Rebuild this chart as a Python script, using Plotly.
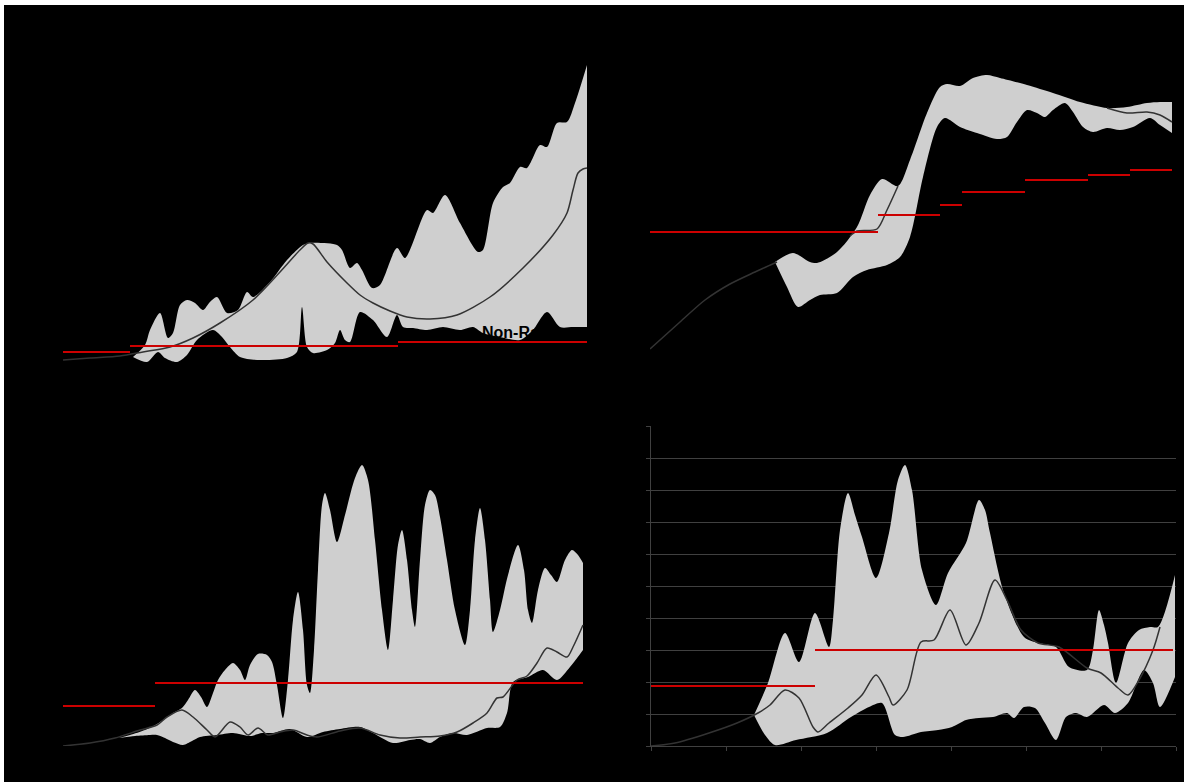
import plotly.graph_objects as go

W, H = 1184, 782

# ---------------- Top-left panel ----------------
tl_line_x = [0, 27, 57, 80, 107, 130, 157, 190, 217, 237, 245, 250, 264, 284, 297, 310, 327, 344, 367, 394, 427, 460, 490, 504, 510, 515, 520, 524]
tl_line_y = [5, 7, 9, 13, 18, 27, 42, 65, 93, 115, 122, 121, 103, 82, 70, 62, 54, 48, 46, 50, 68, 97, 130, 152, 175, 192, 196, 197]
tl_up_x = [70, 82, 87, 97, 105, 110, 117, 124, 132, 140, 147, 154, 164, 175, 184, 190, 207, 224, 240, 247, 274, 279, 287, 294, 299, 309, 317, 334, 342, 364, 370, 382, 397, 415, 420, 430, 440, 447, 457, 464, 477, 484, 494, 504, 512, 524]
tl_up_y = [8, 20, 35, 52, 27, 32, 60, 65, 62, 55, 63, 68, 52, 55, 73, 68, 83, 105, 120, 122, 120, 115, 97, 102, 95, 77, 80, 117, 107, 155, 152, 170, 142, 113, 115, 162, 178, 182, 198, 197, 220, 218, 242, 243, 262, 300]
tl_lo_x = [70, 84, 95, 102, 114, 124, 134, 150, 159, 167, 177, 197, 224, 234, 239, 244, 250, 264, 272, 277, 282, 287, 297, 310, 324, 334, 340, 350, 364, 380, 397, 410, 420, 437, 457, 470, 484, 497, 510, 524]
tl_lo_y = [8, 3, 13, 7, 3, 10, 25, 35, 28, 18, 8, 5, 7, 13, 58, 18, 12, 15, 22, 35, 25, 23, 53, 45, 28, 50, 38, 37, 35, 38, 35, 38, 32, 28, 25, 35, 53, 38, 38, 38]
tl_red_start = [0, 67, 335]
tl_red_end = [67, 335, 524]
tl_red_level = [13, 19, 23]

# ---------------- Top-right panel ----------------
# None = stretch where the line is not visible (runs along the band edge)
tr_line_x = [0, 30, 55, 80, 105, 127, 160, 200, 207, 227, 237, 248, 300, 457, 477, 497, 510, 522]
tr_line_y = [16, 43, 65, 81, 93, 103, None, 129, 134, 136, 155, 179, None, 257, 252, 253, 250, 243]
tr_up_x = [125, 143, 160, 167, 187, 207, 220, 232, 248, 260, 277, 290, 297, 310, 323, 337, 350, 377, 403, 430, 457, 477, 497, 510, 522]
tr_up_y = [103, 112, 103, 102, 113, 138, 170, 186, 179, 205, 252, 278, 281, 279, 287, 290, 287, 280, 272, 263, 257, 258, 262, 263, 263]
tr_lo_x = [125, 137, 148, 160, 170, 187, 203, 217, 237, 250, 260, 273, 287, 295, 310, 327, 347, 357, 367, 377, 387, 395, 403, 415, 423, 433, 443, 457, 470, 483, 500, 510, 522]
tr_lo_y = [103, 78, 58, 65, 70, 72, 88, 95, 100, 108, 128, 188, 238, 247, 238, 232, 226, 228, 243, 255, 252, 248, 255, 262, 253, 238, 233, 237, 235, 238, 247, 240, 232]
tr_red_start = [0, 228, 290, 312, 375, 438, 480]
tr_red_end = [228, 290, 312, 375, 438, 480, 522]
tr_red_level = [133, 150, 160, 173, 185, 190, 195]

# ---------------- Bottom-left panel ----------------
bl_line_x = [0, 27, 52, 77, 94, 104, 119, 130, 144, 152, 167, 177, 185, 195, 205, 217, 230, 244, 254, 277, 297, 317, 337, 357, 377, 394, 410, 424, 434, 440, 454, 464, 474, 484, 494, 504, 510, 520]
bl_line_y = [0, 3, 8, 16, 21, 29, 36, 29, 16, 9, 24, 19, 11, 18, 11, 14, 16, 11, 9, 15, 18, 11, 8, 9, 10, 14, 23, 33, 48, 49, 66, 70, 83, 98, 94, 89, 99, 121]
bl_up_x = [56, 67, 82, 94, 104, 110, 119, 125, 132, 138, 144, 150, 155, 162, 170, 177, 182, 187, 195, 204, 209, 214, 220, 225, 230, 235, 240, 244, 247, 251, 255, 259, 262, 267, 274, 282, 292, 299, 305, 312, 319, 325, 330, 335, 339, 344, 349, 352, 357, 362, 367, 372, 377, 384, 392, 402, 407, 412, 417, 422, 427, 430, 437, 445, 455, 461, 465, 469, 475, 482, 488, 494, 502, 509, 515, 520]
bl_up_y = [8, 11, 16, 22, 29, 33, 38, 46, 56, 49, 39, 53, 66, 76, 83, 76, 66, 81, 92, 91, 84, 61, 28, 66, 126, 154, 116, 61, 53, 96, 176, 241, 253, 236, 204, 231, 268, 281, 266, 206, 136, 96, 146, 201, 216, 186, 136, 119, 186, 241, 256, 251, 229, 186, 136, 101, 136, 206, 238, 206, 146, 114, 136, 171, 201, 176, 136, 123, 156, 178, 171, 164, 186, 196, 191, 183]
bl_lo_x = [56, 72, 87, 94, 102, 110, 120, 129, 137, 154, 170, 187, 199, 210, 227, 244, 260, 277, 297, 310, 330, 347, 357, 367, 377, 390, 404, 424, 437, 444, 450, 465, 480, 494, 507, 520]
bl_lo_y = [8, 10, 11, 11, 8, 4, 1, 5, 9, 11, 13, 10, 13, 13, 17, 9, 14, 17, 19, 13, 3, 6, 7, 3, 9, 13, 11, 18, 19, 33, 64, 69, 76, 66, 79, 96]
bl_red_start = [0, 92]
bl_red_end = [92, 520]
bl_red_level = [40, 63]

# ---------------- Bottom-right panel ----------------
br_line_x = [0, 24, 58, 86, 107, 119, 134, 148, 162, 167, 178, 197, 211, 225, 238, 242, 256, 270, 283, 299, 315, 328, 344, 356, 370, 387, 408, 436, 450, 467, 477, 488, 502, 509]
br_line_y = [0, 3, 13, 23, 33, 41, 56, 48, 19, 14, 23, 38, 51, 71, 49, 41, 56, 104, 106, 136, 101, 123, 166, 146, 116, 103, 99, 78, 73, 58, 51, 66, 96, 119]
br_up_x = [103, 117, 134, 148, 164, 178, 182, 189, 197, 204, 211, 225, 238, 247, 254, 261, 271, 285, 297, 315, 328, 334, 339, 353, 373, 387, 405, 418, 436, 442, 448, 453, 457, 465, 477, 488, 499, 507, 524]
br_up_y = [31, 63, 113, 84, 133, 99, 126, 216, 253, 231, 209, 168, 213, 266, 281, 256, 176, 141, 173, 203, 246, 236, 213, 153, 109, 103, 99, 79, 76, 96, 136, 121, 103, 63, 103, 116, 119, 119, 171]
br_lo_x = [103, 114, 124, 145, 176, 200, 218, 231, 244, 252, 270, 287, 301, 315, 328, 342, 356, 363, 373, 384, 394, 405, 415, 425, 436, 453, 464, 477, 493, 502, 509, 524]
br_lo_y = [31, 11, 1, 6, 13, 29, 39, 43, 11, 9, 14, 16, 19, 26, 28, 29, 33, 28, 39, 38, 23, 6, 29, 33, 29, 41, 33, 43, 76, 63, 39, 69]
br_red_start = [0, 164]
br_red_end = [164, 522]
br_red_level = [60, 96]

BAND = "#cfcfcf"
LINE = "#333333"
RED = "#cc0000"


def dom(a, b, total):
    return [a / total, b / total]


def ydom(top, bottom):
    return [1 - bottom / H, 1 - top / H]


fig = go.Figure()


def panel(idx, lx, ly, ux, uy, lox, loy, rs, re, rl):
    xa = "x" if idx == 1 else f"x{idx}"
    ya = "y" if idx == 1 else f"y{idx}"
    fig.add_trace(go.Scatter(x=lox, y=loy, mode="lines", line=dict(width=0, shape="spline", smoothing=0.8),
                             xaxis=xa, yaxis=ya, hoverinfo="skip", showlegend=False))
    fig.add_trace(go.Scatter(x=ux, y=uy, mode="lines", fill="tonexty", fillcolor=BAND,
                             line=dict(width=0, shape="spline", smoothing=0.8, color=BAND),
                             xaxis=xa, yaxis=ya, hoverinfo="skip", showlegend=False))
    fig.add_trace(go.Scatter(x=lx, y=ly, mode="lines", connectgaps=False,
                             line=dict(width=1.5, color=LINE, shape="spline", smoothing=0.8),
                             xaxis=xa, yaxis=ya, showlegend=False))
    rx, ry = [], []
    for s, e, v in zip(rs, re, rl):
        rx += [s, e, None]
        ry += [v, v, None]
    fig.add_trace(go.Scatter(x=rx, y=ry, mode="lines", line=dict(width=2, color=RED),
                             xaxis=xa, yaxis=ya, showlegend=False))


panel(1, tl_line_x, tl_line_y, tl_up_x, tl_up_y, tl_lo_x, tl_lo_y, tl_red_start, tl_red_end, tl_red_level)
panel(2, tr_line_x, tr_line_y, tr_up_x, tr_up_y, tr_lo_x, tr_lo_y, tr_red_start, tr_red_end, tr_red_level)
panel(3, bl_line_x, bl_line_y, bl_up_x, bl_up_y, bl_lo_x, bl_lo_y, bl_red_start, bl_red_end, bl_red_level)
panel(4, br_line_x, br_line_y, br_up_x, br_up_y, br_lo_x, br_lo_y, br_red_start, br_red_end, br_red_level)

hidden = dict(visible=False, showgrid=False, zeroline=False, fixedrange=True)

GRID = "#404040"

fig.update_layout(
    width=W, height=H,
    margin=dict(l=0, r=0, t=0, b=0),
    paper_bgcolor="white",
    plot_bgcolor="black",
    showlegend=False,
    xaxis=dict(domain=dom(63, 587, W), range=[0, 524], anchor="y", **hidden),
    yaxis=dict(domain=ydom(45, 365), range=[0, 320], anchor="x", **hidden),
    xaxis2=dict(domain=dom(650, 1174, W), range=[0, 524], anchor="y2", **hidden),
    yaxis2=dict(domain=ydom(45, 365), range=[0, 320], anchor="x2", **hidden),
    xaxis3=dict(domain=dom(63, 587, W), range=[0, 524], anchor="y3", **hidden),
    yaxis3=dict(domain=ydom(426, 746), range=[0, 320], anchor="x3", **hidden),
    xaxis4=dict(domain=dom(651, 1176, W), range=[0, 525], anchor="y4", dtick=75, tick0=0,
                showgrid=False, zeroline=False, showline=True, linecolor=GRID, linewidth=1,
                ticks="outside", ticklen=4, tickcolor=GRID, showticklabels=False),
    yaxis4=dict(domain=ydom(426, 746), range=[0, 320], anchor="x4", dtick=32, tick0=0,
                showgrid=True, gridcolor=GRID, gridwidth=1, zeroline=False, showline=True,
                linecolor=GRID, linewidth=1, ticks="outside", ticklen=4, tickcolor=GRID,
                showticklabels=False),
    shapes=[dict(type="rect", xref="paper", yref="paper", x0=4 / W, x1=1, y0=0, y1=1 - 5 / H,
                 fillcolor="black", line=dict(width=0), layer="below")],
    annotations=[dict(text="<b>Non-Random</b>", x=417, y=33, xref="x", yref="y", xanchor="left", yanchor="middle",
                      showarrow=False, font=dict(family="Liberation Sans, Arial", size=16, color="black"))],
)

fig.write_html(
    "out.html",
    config={"displayModeBar": False, "staticPlot": True},
    post_script="document.body.style.margin='0';document.body.style.padding='0';document.body.style.overflow='hidden';",
)
